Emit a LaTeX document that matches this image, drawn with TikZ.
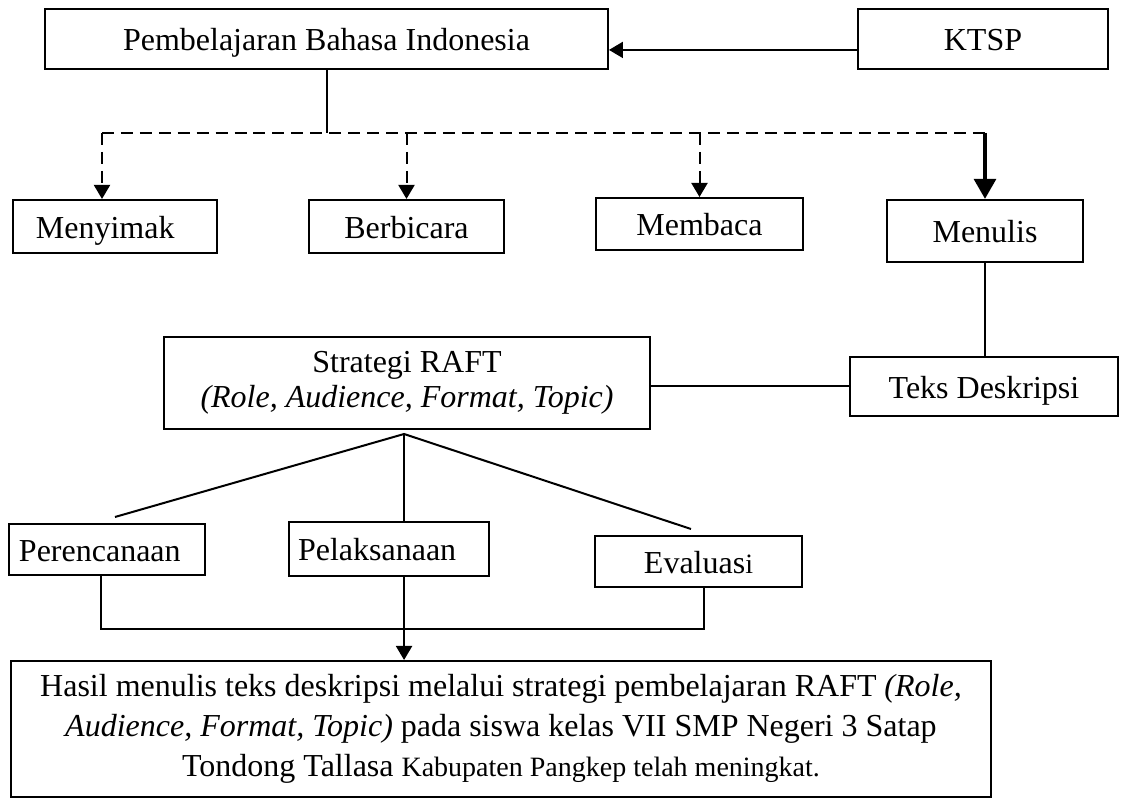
\documentclass[tikz,border=0pt]{standalone}
\usepackage{fontspec}
\setmainfont{Liberation Serif}
\usetikzlibrary{arrows.meta}
\tikzset{every picture/.style={line width=0.75pt}}
\tikzset{box/.style={draw, inner sep=2pt, font=\fontsize{12}{15}\selectfont}}
\tikzset{onebox/.style={box, text height=10.5pt, text depth=1.5pt}}
\tikzset{tip/.style={-{Triangle[length=5.25pt,width=6pt]}}}
\tikzset{bigtip/.style={line width=1.7pt, -{Triangle[length=7.5pt,width=8pt]}}}
\tikzset{dash line/.style={dash pattern=on 4.5pt off 2.6pt}}

\begin{document}
\begin{tikzpicture}[x=0.375pt,y=-0.375pt]
              \useasboundingbox (0,0) rectangle (1124,798);
              % top row
              \node[onebox, minimum width=211.1pt, minimum height=22.5pt] (pbi) at (326.5,39) {Pembelajaran Bahasa Indonesia};
              \node[onebox, minimum width=93.75pt, minimum height=22.5pt] (ktsp) at (983,39) {KTSP};
              % skills
              \node[onebox, minimum width=76.5pt, minimum height=19.9pt, align=left, inner xsep=8.6pt, text width=59.3pt] (menyimak) at (115,226.5) {Menyimak};
              \node[onebox, minimum width=73.1pt, minimum height=19.9pt] (berbicara) at (406.5,226.5) {Berbicara};
              \node[onebox, minimum width=77.6pt, minimum height=19.5pt] (membaca) at (699.5,224) {Membaca};
              \node[onebox, minimum width=73.5pt, minimum height=23.25pt] (menulis) at (985,231) {Menulis};
              % strategy
              \node[box, minimum width=182.25pt, minimum height=34.5pt, align=center, font=\fontsize{12}{13.2}\selectfont] (raft) at (407,383) {Strategi RAFT\\ \textit{(Role, Audience, Format, Topic)}};
              \node[onebox, minimum width=100.5pt, minimum height=22.1pt] (teks) at (984,386.5) {Teks Deskripsi};
              % steps
              \node[onebox, minimum width=73.5pt, minimum height=19.1pt, align=left, inner xsep=3.75pt, text width=66pt] (rencana) at (107,549.5) {Perencanaan};
              \node[onebox, minimum width=75pt, minimum height=20.25pt, align=left, inner xsep=3.4pt, text width=68.2pt] (laksana) at (389,549) {Pelaksanaan};
              \node[onebox, minimum width=77.6pt, minimum height=19.1pt] (evaluasi) at (698.5,561.5) {Evaluas{\fontsize{10.5}{12}\selectfont i}};
              % result
              \node[box, minimum width=367.5pt, minimum height=51pt, align=center] (hasil) at (501,729) {Hasil menulis teks deskripsi melalui strategi pembelajaran RAFT \textit{(Role,}\\ \textit{Audience, Format, Topic)} pada siswa kelas VII SMP Negeri 3 Satap\\ Tondong Tallasa {\fontsize{10.5}{15}\selectfont Kabupaten Pangkep telah meningkat.}};

              \draw[tip] ([yshift=-4.1pt]ktsp.west) -- ([yshift=-4.1pt]pbi.east);
              \coordinate (bus) at (102,133);
              \draw (pbi.south) -- (pbi.south |- bus);
              \draw[dash line] (bus) -- (menulis.north |- bus);
              \draw[dash line, tip] (bus) -- (bus |- menyimak.north);
              \draw[dash line, tip] (berbicara.north |- bus) -- (berbicara.north);
              \draw[dash line, tip] (membaca.north |- bus) -- (membaca.north);
              \draw[bigtip] (menulis.north |- bus) -- (menulis.north);
              \draw (menulis.south) -- (menulis.south |- teks.north);
              \draw (teks.west -| raft.east) -- (teks.west);
              \coordinate (fan) at ([xshift=-1.1pt,yshift=-1.5pt]raft.south);
              \coordinate (e1) at (115,517);
              \coordinate (e3) at (691,529);
              \draw (e1) -- (fan) -- (e3);
              \draw (fan) -- (fan |- laksana.north);
              \coordinate (j) at (0,629);
              \coordinate (rb) at ([xshift=-2.2pt]rencana.south);
              \coordinate (eb) at ([xshift=2pt]evaluasi.south);
              \draw (rb) |- (j -| eb) -- (eb);
              \draw[tip] (fan |- laksana.south) -- (fan |- hasil.north);
            \end{tikzpicture}
\end{document}
